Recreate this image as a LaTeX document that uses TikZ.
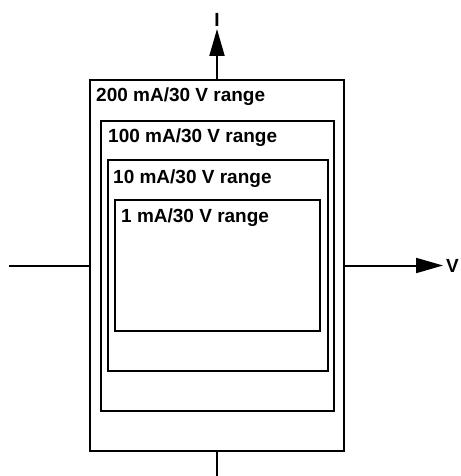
\documentclass[tikz,border=0pt]{standalone}
\usepackage{fontspec}
\setmainfont{Liberation Sans}
\usetikzlibrary{arrows.meta,fit}

\tikzset{
  rangebox/.style={draw, line width=2pt, inner sep=0pt},
  rangelabel/.style={anchor=base west, inner sep=0pt, font=\fontsize{19}{22}\selectfont\bfseries},
  axisline/.style={line width=2pt},
  axisarrow/.style={line width=2pt, -{Triangle[length=27pt,width=15pt]}}
}

\begin{document}
\begin{tikzpicture}[x=1pt,y=1pt]
        \useasboundingbox (0,0) rectangle (460,-476);

        % Coordinates
        \coordinate (a200) at (90,-80);
        \coordinate (b200) at (344,-451);
        \coordinate (a100) at (101,-121);
        \coordinate (b100) at (334,-411);
        \coordinate (a10) at (108,-160);
        \coordinate (b10) at (328,-371);
        \coordinate (a1) at (115,-200);
        \coordinate (b1) at (320,-331);
        \coordinate (itip) at (217,-29);
        \coordinate (ibot) at (217,-476);
        \coordinate (vleft) at (9,-265.5);
        \coordinate (vtip) at (443,-265.5);

        % Range boxes
        \node[rangebox, fit=(a200)(b200)] (r200) {};
        \node[rangebox, fit=(a100)(b100)] (r100) {};
        \node[rangebox, fit=(a10)(b10)] (r10) {};
        \node[rangebox, fit=(a1)(b1)] (r1) {};

        % Labels
        \node[rangelabel] (t200) at (96,-102) {200 mA/30 V range};
        \node[rangelabel] (t100) at (108,-142) {100 mA/30 V range};
        \node[rangelabel] (t10) at (113,-183) {10 mA/30 V range};
        \node[rangelabel] (t1) at (121,-222) {1 mA/30 V range};

        % Axes
        \draw[axisarrow] (r200.north) -- (itip);
        \draw[axisline] (r200.south) -- (ibot);
        \draw[axisline] (vleft) -- (r200.west);
        \draw[axisarrow] (r200.east) -- (vtip);
        \node[rangelabel, anchor=center] (ilabel) at (217,-19.5) {I};
        \node[rangelabel, anchor=west] (vlabel) at (446,-265.5) {V};
    \end{tikzpicture}
\end{document}
